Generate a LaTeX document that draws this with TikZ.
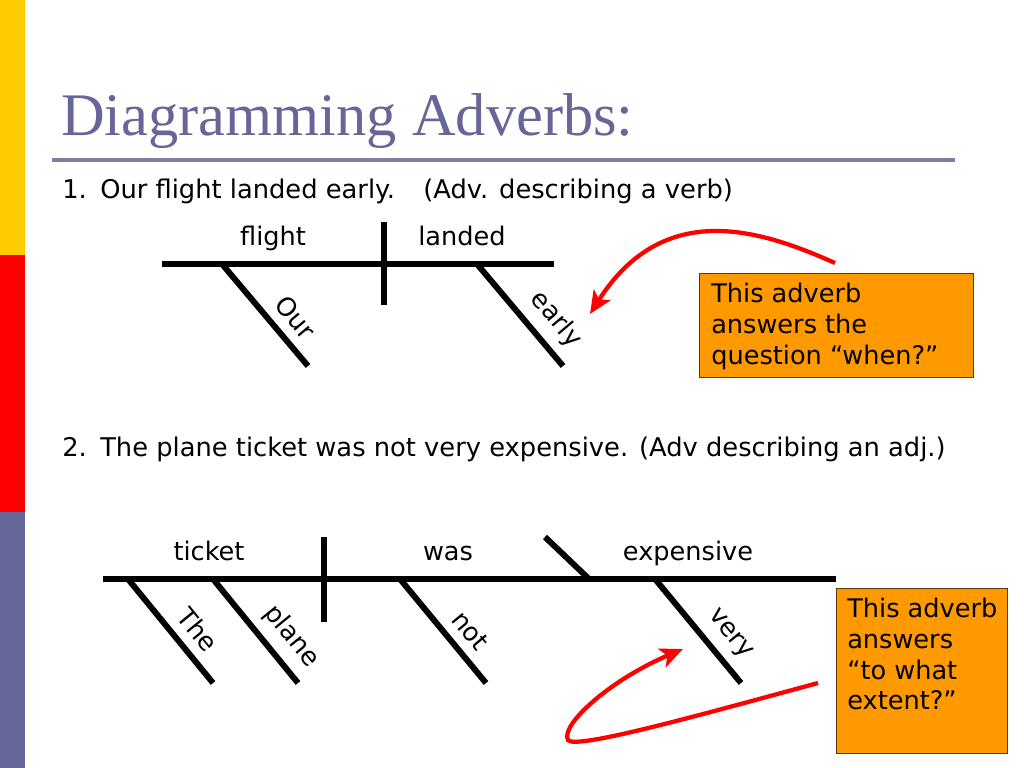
\documentclass[tikz,border=0pt]{standalone}
\usepackage{fontspec}
\setmainfont{DejaVu Sans}
\newfontfamily\titlefont{Liberation Serif}
\usetikzlibrary{arrows.meta, positioning, calc}
\definecolor{slate}{HTML}{666699}
\definecolor{barYellow}{HTML}{FFCC00}
\definecolor{boxOrange}{HTML}{FF9900}
\definecolor{boxEdge}{HTML}{5A3A10}

\begin{document}
\begin{tikzpicture}[x=0.703125pt,y=-0.703125pt,
  line/.style={line width=4.2pt,black},
  word/.style={font=\fontsize{18}{21.6}\selectfont,inner sep=1pt},
  slant/.style={word,sloped,above=5.5pt},
  note/.style={draw=boxEdge,fill=boxOrange,anchor=north west,inner sep=0pt},
  notetext/.style={font=\fontsize{18}{21.6}\selectfont,align=left,anchor=north west,inner sep=0pt},
  pointer/.style={red,line width=3pt,-{Stealth[length=16pt,width=14pt,inset=4pt]}},
]
\useasboundingbox (0,0) rectangle (1024,768);
% left colour bar
\fill[barYellow] (0,0) rectangle (25,255);
\fill[red] (0,255) rectangle (25,512);
\fill[slate] (0,512) rectangle (25,768);

% title
\node[anchor=base west,inner sep=0pt,text=slate,font=\titlefont\fontsize{42.5}{50}\selectfont] (nTitle) at (61,136) {Diagramming Adverbs:};
\draw[slate!85,line width=2.2pt] (52,160) -- (955,160);

% sentence 1
\node[anchor=base west,inner sep=0pt,font=\fontsize{18.1}{21.6}\selectfont] (nSentA) at (62,199) {\makebox[26.7pt][l]{1.}Our flight landed early.\hspace{1.1em}(Adv. describing a verb)};

\coordinate (aL) at (162,264);
\coordinate (aR) at (554,264);
\coordinate (aDivT) at (384,222);
\coordinate (aDivB) at (384,305);
\coordinate (aOur) at (222,264);
\coordinate (aOurE) at (308,366);
\coordinate (aEarly) at (477,264);
\coordinate (aEarlyE) at (563,366);

\draw[line] (aL) -- (aR);
\draw[line] (aDivT) -- (aDivB);
\draw[line] (aOur) -- (aOurE) node[slant,pos=0.66] (nOur) {Our};
\draw[line] (aEarly) -- (aEarlyE) node[slant,pos=0.70] (nEarly) {early};
\node[word,anchor=base] (nFlight) at (273,246) {flight};
\node[word,anchor=base] (nLanded) at (462,246) {landed};

\node[note,minimum width=274*0.703125pt,minimum height=104*0.703125pt] (nBoxA) at (699,273) {};
\node[notetext] (nTextA) at (711,283) {This adverb\\answers the\\question “when?”};
\coordinate (aStartA) at (835,263);
\coordinate (aTipA) at (590,314);
\draw[pointer] (aStartA) .. controls (765,232) and (665,196) .. (aTipA);

% sentence 2
\node[anchor=base west,inner sep=0pt,font=\fontsize{18.1}{21.6}\selectfont] (nSentB) at (62,456) {\makebox[26.7pt][l]{2.}The plane ticket was not very expensive. (Adv describing an adj.)};

\coordinate (bL) at (103,579);
\coordinate (bR) at (836,579);
\coordinate (bDivT) at (324,537);
\coordinate (bDivB) at (324,622);
\coordinate (bThe) at (128,579);
\coordinate (bTheE) at (213,683);
\coordinate (bPlane) at (213,579);
\coordinate (bPlaneE) at (298,683);
\coordinate (bNot) at (400,579);
\coordinate (bNotE) at (486,683);
\coordinate (bBack) at (545,537);
\coordinate (bBackE) at (589,579);
\coordinate (bVery) at (655,579);
\coordinate (bVeryE) at (741,683);

\draw[line] (bL) -- (bR);
\draw[line] (bDivT) -- (bDivB);
\draw[line] (bBack) -- (bBackE);
\draw[line] (bThe) -- (bTheE) node[slant,pos=0.62] (nThe) {The};
\draw[line] (bPlane) -- (bPlaneE) node[slant,pos=0.70] (nPlane) {plane};
\draw[line] (bNot) -- (bNotE) node[slant,pos=0.63] (nNot) {not};
\draw[line] (bVery) -- (bVeryE) node[slant,pos=0.67] (nVery) {very};
\node[word,anchor=base] (nTicket) at (209,560) {ticket};
\node[word,anchor=base] (nWas) at (448,560) {was};
\node[word,anchor=base] (nExpensive) at (688,560) {expensive};

\node[note,minimum width=171*0.703125pt,minimum height=165*0.703125pt] (nBoxB) at (836,588) {};
\node[notetext] (nTextB) at (847,598) {This adverb\\answers\\“to what\\extent?”};
\coordinate (bStart) at (818,683);
\coordinate (bTurn) at (568,740);
\coordinate (bTip) at (683,649);
\draw[pointer] (bStart) .. controls (700,715) and (575,750) .. (bTurn) .. controls (560,725) and (610,680) .. (bTip);
\end{tikzpicture}
\end{document}
